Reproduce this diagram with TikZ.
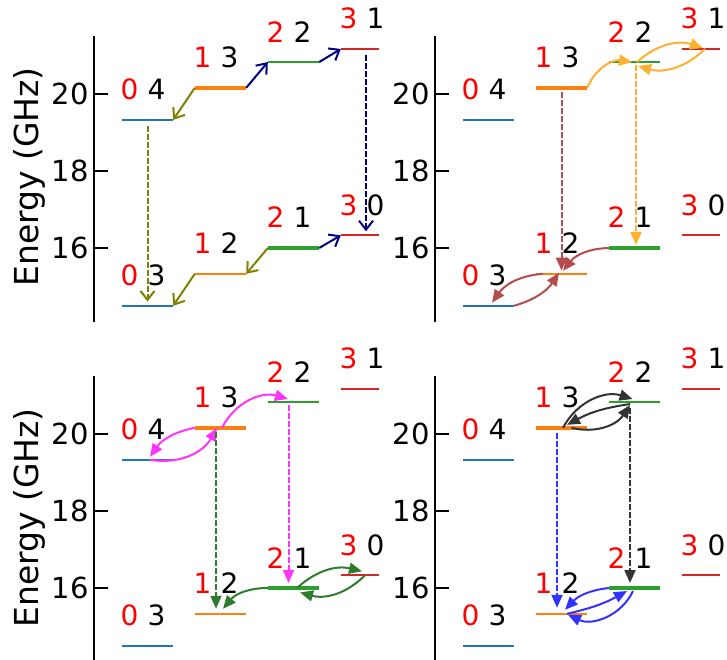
\documentclass[tikz,border=0pt]{standalone}
\usepackage{fontspec}
\setmainfont{DejaVu Sans}
\usetikzlibrary{arrows.meta}

\definecolor{tabblue}{HTML}{1F77B4}
\definecolor{taborange}{HTML}{FF7F0E}
\definecolor{tabgreen}{HTML}{2CA02C}
\definecolor{tabred}{HTML}{D62728}
\definecolor{olivearr}{HTML}{808000}
\definecolor{navyarr}{HTML}{000080}
\definecolor{brownarr}{HTML}{B44C4C}
\definecolor{orangearr}{HTML}{FFB02E}
\definecolor{magentaarr}{HTML}{FF33FF}
\definecolor{greenarr}{HTML}{2E7D2E}
\definecolor{blackarr}{HTML}{333333}
\definecolor{bluearr}{HTML}{3333FF}

\begin{document}
\begin{tikzpicture}[x=1pt, y=38.5pt,
  lvl/.style={inner sep=0pt, minimum height=0pt},
  lab/.style={font=\fontsize{28}{28}\selectfont, inner sep=0pt, anchor=base west},
  ticklab/.style={font=\fontsize{29}{29}\selectfont, inner sep=0pt, anchor=east},
  ylab/.style={font=\fontsize{33}{33}\selectfont, inner sep=0pt, rotate=90},
  openarr/.style={-{Straight Barb[length=9pt,width=14pt]}, line width=2pt},
  fullarr/.style={-{Triangle[length=13pt,width=11pt]}, line width=2pt},
  dsh/.style={dash pattern=on 6pt off 2pt}]
  \useasboundingbox (0pt,0pt) rectangle (727pt,659pt);

  % four panels: axis, ticks, levels and their labels
  \foreach \p/\dx/\dy in {tl/0/-205, tr/341/-205, bl/0/-545, br/341/-545} {
    \begin{scope}[shift={(\dx pt,\dy pt)}]
      \draw[line width=2.6pt] (94,14.08) -- (94,21.5);
      \foreach \e in {16,18,20} {
        \draw[line width=2.6pt] (94,\e) -- (108,\e);
        \node[ticklab] (\p t\e) at (89,\e) {\e};
      }
      \foreach \ra/\rb/\c/\x/\e/\w/\l in {0/4/tabblue/122/19.33/51/2, 0/3/tabblue/122/14.5/51/2,
          1/3/taborange/195/20.16/51/4.5, 1/2/taborange/195/15.33/51/2,
          2/2/tabgreen/268/20.83/51/2, 2/1/tabgreen/268/16.0/51/4.5,
          3/1/tabred/341/21.17/38/2, 3/0/tabred/341/16.33/38/2} {
        \node[lvl, minimum width=\w pt] (\p\ra\rb) at ({\x+\w/2},\e) {};
        \draw[\c, line width=\l pt] (\p\ra\rb.west) -- (\p\ra\rb.east);
        \node[lab, text=red] (\p\ra\rb r) at ([shift={(-1.5pt,20pt)}]\p\ra\rb.west) {\ra};
        \node[lab] (\p\ra\rb k) at ([shift={(25.5pt,20pt)}]\p\ra\rb.west) {\rb};
      }
    \end{scope}
  }
  \node[ylab] (ylabtop) at (29pt,482pt) {Energy (GHz)};
  \node[ylab] (ylabbot) at (29pt,141pt) {Energy (GHz)};

  % top left
  \draw[openarr, olivearr] (tl13.west) -- (tl04.east);
  \draw[openarr, olivearr, dsh, shorten <=6pt, shorten >=4pt] (tl04) -- (tl03);
  \draw[openarr, olivearr] (tl12.west) -- (tl03.east);
  \draw[openarr, olivearr] (tl21.west) -- (tl12.east);
  \draw[openarr, navyarr] (tl13.east) -- (tl22.west);
  \draw[openarr, navyarr] (tl22.east) -- (tl31.west);
  \draw[openarr, navyarr, dsh, shorten <=6pt, shorten >=4pt] ([xshift=6pt]tl31.center) -- ([xshift=6pt]tl30.center);
  \draw[openarr, navyarr] (tl21.east) -- (tl30.west);

  % top right
  \draw[fullarr, brownarr, dsh, shorten <=4pt, shorten >=3pt] (tr13) -- (tr12);
  \draw[fullarr, orangearr, dsh, shorten <=3pt, shorten >=3pt] ([xshift=1.5pt]tr22.center) -- ([xshift=1.5pt]tr21.center);
  \draw[fullarr, orangearr] (tr13.east) to[bend left=38] ([xshift=-2.5pt]tr22.center);
  \draw[fullarr, orangearr] ([xshift=2.5pt]tr22.center) to[bend left=30] ([shift={(2pt,1pt)}]tr31.center);
  \draw[fullarr, orangearr] ([xshift=4pt]tr31.center) to[bend left=30] ([shift={(3.5pt,-4pt)}]tr22.center);
  \draw[fullarr, brownarr] (tr21.west) to[bend right=25] ([shift={(1.5pt,3pt)}]tr12.center);
  \draw[fullarr, brownarr] (tr03.east) to[bend right=20] ([shift={(-2.5pt,1pt)}]tr12.center);
  \draw[fullarr, brownarr] ([xshift=7pt]tr12.west) to[bend right=25] ([shift={(3.5pt,3pt)}]tr03.center);

  % bottom left
  \draw[fullarr, magentaarr] (bl13.west) to[bend right=22] ([shift={(2.5pt,3pt)}]bl04.center);
  \draw[fullarr, magentaarr] ([xshift=2.5pt]bl04.center) to[bend right=35] ([xshift=-3.5pt]bl13.center);
  \draw[fullarr, magentaarr] ([xshift=1.5pt]bl13.center) to[bend left=40] ([shift={(-5.5pt,3pt)}]bl22.center);
  \draw[fullarr, magentaarr, dsh, shorten <=3pt, shorten >=5pt] ([xshift=-5pt]bl22.center) -- ([xshift=-5pt]bl21.center);
  \draw[fullarr, greenarr, dsh, shorten <=4pt, shorten >=5pt] ([xshift=-4.5pt]bl13.center) -- ([xshift=-4.5pt]bl12.center);
  \draw[fullarr, greenarr] (bl21.west) to[bend right=25] ([shift={(2.5pt,5pt)}]bl12.center);
  \draw[fullarr, greenarr] ([xshift=3.5pt]bl21.center) to[bend left=28] ([shift={(2pt,4pt)}]bl30.center);
  \draw[fullarr, greenarr] ([xshift=5pt]bl30.center) to[bend left=30] ([shift={(6.5pt,-4.5pt)}]bl21.center);

  % bottom right
  \draw[fullarr, blackarr] ([xshift=1.5pt]br13.center) to[bend left=40] ([shift={(-2pt,3pt)}]br22.center);
  \draw[fullarr, blackarr] ([shift={(-4.5pt,-2pt)}]br22.center) to[bend right=10] ([shift={(5.5pt,3pt)}]br13.center);
  \draw[fullarr, blackarr] ([xshift=10pt]br13.center) to[bend right=35] ([shift={(-4.5pt,-3pt)}]br22.center);
  \draw[fullarr, blackarr, dsh, shorten <=6pt, shorten >=5pt] ([xshift=-4.5pt]br22.center) -- ([xshift=-4.5pt]br21.center);
  \draw[fullarr, bluearr, dsh, shorten <=5pt, shorten >=6pt] ([xshift=-4.5pt]br13.center) -- ([xshift=-4.5pt]br12.center);
  \draw[fullarr, bluearr] (br21.west) to[bend right=20] ([shift={(3.5pt,4pt)}]br12.center);
  \draw[fullarr, bluearr] ([xshift=5.5pt]br12.center) to[bend right=8] ([shift={(-7.5pt,-3pt)}]br21.center);
  \draw[fullarr, bluearr] ([shift={(-1.5pt,-3pt)}]br21.center) to[bend left=45] ([shift={(6.5pt,-1pt)}]br12.center);
\end{tikzpicture}
\end{document}
